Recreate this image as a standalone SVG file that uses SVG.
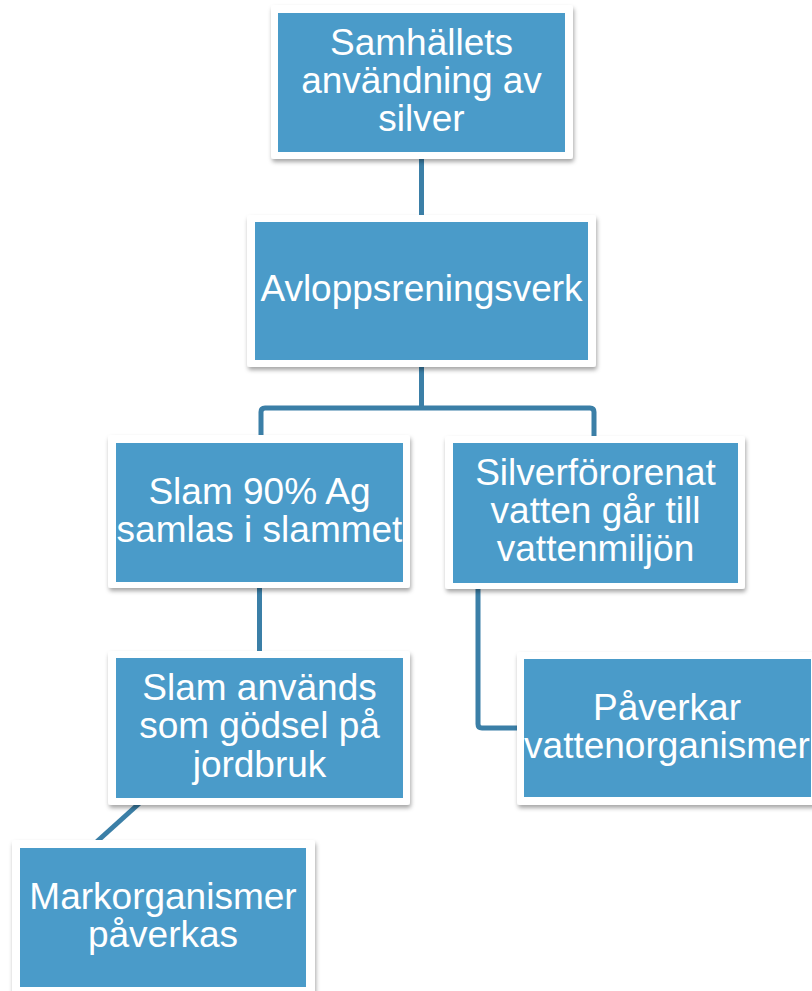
<svg xmlns="http://www.w3.org/2000/svg" width="812" height="991" viewBox="0 0 812 991">
<defs>
<filter id="sh" x="-10%" y="-10%" width="120%" height="130%">
<feDropShadow dx="1" dy="3" stdDeviation="2" flood-color="#000" flood-opacity="0.35"/>
</filter>
</defs>
<style>
.frame{fill:#fff;filter:url(#sh)}
.box{fill:#4A9BC9}
.t{font-family:"Liberation Sans",Arial,sans-serif;font-size:37px;fill:#fff;text-anchor:middle}
.c{fill:none;stroke:#3B7FA7;stroke-width:5;stroke-linejoin:round}
</style>
<rect width="812" height="991" fill="#fff"/>
<g id="connectors">
<path class="c" d="M421.5 159 V215"/>
<path class="c" d="M421.5 367 V408"/>
<path class="c" d="M261 436 V412 Q261 408 265 408 H590 Q594 408 594 412 V436"/>
<path class="c" d="M259.5 588 V653"/>
<path class="c" d="M478 589 V724 Q478 728 482 728 H518"/>
<path class="c" d="M143 800 L92 846"/>
</g>
<g id="n1">
<rect class="frame" x="271" y="5" width="302" height="154" rx="3"/>
<rect class="box" x="278" y="13" width="287" height="139"/>
<text class="t" x="421.5" y="55">Samhällets</text>
<text class="t" x="421.5" y="93">användning av</text>
<text class="t" x="421.5" y="131">silver</text>
</g>
<g id="n2">
<rect class="frame" x="247" y="215" width="349" height="152" rx="3"/>
<rect class="box" x="255" y="222" width="333" height="138"/>
<text class="t" x="421.5" y="301">Avloppsreningsverk</text>
</g>
<g id="n3">
<rect class="frame" x="108" y="435" width="302" height="153" rx="3"/>
<rect class="box" x="116" y="443" width="287" height="139"/>
<text class="t" x="259.5" y="504">Slam 90% Ag</text>
<text class="t" x="259.5" y="542">samlas i slammet</text>
</g>
<g id="n4">
<rect class="frame" x="108" y="651" width="302" height="154" rx="3"/>
<rect class="box" x="116" y="658" width="287" height="140"/>
<text class="t" x="259.5" y="700">Slam används</text>
<text class="t" x="259.5" y="738">som gödsel på</text>
<text class="t" x="259.5" y="777">jordbruk</text>
</g>
<g id="n5">
<rect class="frame" x="445" y="436" width="300" height="153" rx="3"/>
<rect class="box" x="453" y="443" width="285" height="140"/>
<text class="t" x="595.5" y="485">Silverförorenat</text>
<text class="t" x="595.5" y="523">vatten går till</text>
<text class="t" x="595.5" y="561">vattenmiljön</text>
</g>
<g id="n6">
<rect class="frame" x="517" y="652" width="302" height="153" rx="3"/>
<rect class="box" x="524" y="659" width="287" height="138"/>
<text class="t" x="667" y="720">Påverkar</text>
<text class="t" x="667" y="758">vattenorganismer</text>
</g>
<g id="n7">
<rect class="frame" x="12" y="840" width="303" height="155" rx="3"/>
<rect class="box" x="20" y="848" width="286" height="139"/>
<text class="t" x="163" y="909">Markorganismer</text>
<text class="t" x="163" y="947">påverkas</text>
</g>
</svg>
